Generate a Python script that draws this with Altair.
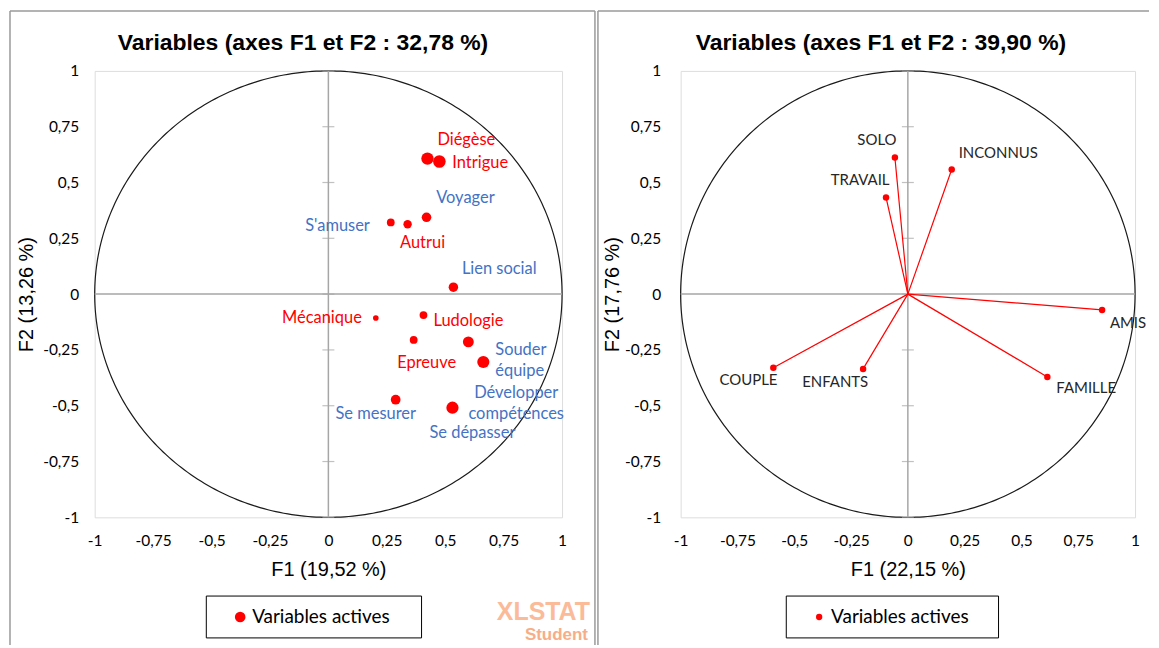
import altair as alt
import numpy as np
import pandas as pd

# ------------------------------------------------------------------ data
TICKS = [-1, -0.75, -0.5, -0.25, 0, 0.25, 0.5, 0.75, 1]

# left chart
noms_g = ["Diégèse", "Intrigue", "Voyager", "S'amuser", "Autrui", "Lien social",
          "Mécanique", "Ludologie", "Epreuve", "Souder\néquipe",
          "Développer\ncompétences", "Se mesurer", "Se dépasser"]
f1_g = [0.424, 0.475, 0.420, 0.267, 0.339, 0.535, 0.203, 0.407, 0.365, 0.599, 0.663, 0.288, 0.531]
f2_g = [0.607, 0.594, 0.344, 0.321, 0.313, 0.031, -0.107, -0.094, -0.205, -0.214, -0.304, -0.473, -0.509]
qual_g = [0.55, 0.58, 0.30, 0.17, 0.21, 0.29, 0.05, 0.17, 0.17, 0.41, 0.53, 0.31, 0.54]
groupe_g = ["Jeu", "Jeu", "Motivation", "Motivation", "Jeu", "Motivation", "Jeu", "Jeu",
            "Jeu", "Motivation", "Motivation", "Motivation", "Motivation"]

# right chart
noms_d = ["SOLO", "TRAVAIL", "INCONNUS", "AMIS", "FAMILLE", "COUPLE", "ENFANTS"]
f1_d = [-0.057, -0.096, 0.193, 0.855, 0.614, -0.592, -0.197]
f2_d = [0.612, 0.433, 0.558, -0.071, -0.371, -0.330, -0.335]

titres = ["Variables (axes F1 et F2 : 32,78 %)", "Variables (axes F1 et F2 : 39,90 %)"]
axes_x = ["F1 (19,52 %)", "F1 (22,15 %)"]
axes_y = ["F2 (13,26 %)", "F2 (17,76 %)"]
legende = "Variables actives"

# ------------------------------------------------------------------ styles
FONT_T = "Liberation Sans"
FONT_C = "Lato"
H = 448
W_G, W_D = 469, 456
RED = "#FF0000"
BLUE = "#4472C4"

# label placement (pixel offsets from the point), not data
LBL_G = [(39, -19, "center"), (13, 1, "left"), (39, -19, "center"), (-21, 4, "right"),
         (15, 19, "center"), (46, -18, "center"), (-14, 0, "right"), (10, 6, "left"),
         (13, 23, "center"), (27, 8, "left"), (33, 31, "center"), (-20, 14, "center"),
         (20, 25, "center")]
LBL_D = [(-18, -18, "center"), (-26, -18, "center"), (7, -17, "left"), (26, 13, "center"),
         (39, 11, "center"), (-25, 12, "center"), (-28, 13, "center")]

df_g = pd.DataFrame({"i": range(len(noms_g)), "nom": noms_g, "x": f1_g, "y": f2_g,
                     "qual": qual_g, "groupe": groupe_g})
df_d = pd.DataFrame({"i": range(len(noms_d)), "nom": noms_d, "x": f1_d, "y": f2_d})
df_ticks = pd.DataFrame({"y": TICKS})
t = np.linspace(0, 2 * np.pi, 361)
df_circ = pd.DataFrame({"t": t, "x": np.cos(t), "y": np.sin(t)})
one = pd.DataFrame({"a": [0]})

LABEL_EXPR = "replace(toString(datum.value), '.', ',')"


def encs(W, xt, yt, ypad):
    sc = alt.Scale(domain=[-1, 1], nice=False, zero=False)
    ax_x = alt.Axis(values=TICKS, labelExpr=LABEL_EXPR, grid=False, ticks=False, domain=False,
                    labelFont=FONT_C, labelFontSize=15.5, labelColor="#000", labelPadding=16,
                    labelFlush=False, labelOverlap=False,
                    title=xt, titleFont=FONT_T, titleFontSize=20, titleFontWeight="normal",
                    titleColor="#000", titleX=W / 2, titleY=52, titleBaseline="middle")
    ax_y = alt.Axis(values=TICKS, labelExpr=LABEL_EXPR, grid=False, ticks=False, domain=False,
                    labelFont=FONT_C, labelFontSize=15.5, labelColor="#000", labelPadding=ypad,
                    labelFlush=False, labelOverlap=False,
                    title=yt, titleFont=FONT_T, titleFontSize=20, titleFontWeight="normal",
                    titleColor="#000", titleX=-68, titleY=H / 2, titleAngle=270,
                    titleBaseline="middle")
    X = alt.X("x:Q", scale=sc, axis=ax_x)
    Y = alt.Y("y:Q", scale=sc, axis=ax_y)
    return X, Y


def frame_layers(X, Y, title, tx):
    circ = alt.Chart(df_circ).mark_line(color="#1a1a1a", strokeWidth=1.2).encode(
        x=X, y=Y, order="t:Q")
    vline = alt.Chart(one).mark_rule(color="#A6A6A6", strokeWidth=1.5).encode(
        x=alt.datum(0, type="quantitative"), y=alt.datum(-1, type="quantitative"),
        y2=alt.datum(1))
    hline = alt.Chart(one).mark_rule(color="#A6A6A6", strokeWidth=1.5).encode(
        y=alt.datum(0, type="quantitative"), x=alt.datum(-1, type="quantitative"),
        x2=alt.datum(1))
    ticks = alt.Chart(df_ticks).mark_tick(color="#A6A6A6", orient="horizontal", size=12,
                                          thickness=1.2).encode(
        x=alt.datum(0, type="quantitative"), y=Y)
    ttl = alt.Chart(one).mark_text(font=FONT_T, fontSize=23, fontWeight="bold", color="#000",
                                   align="center", baseline="middle").encode(
        x=alt.value(tx), y=alt.value(-28), text=alt.value(title))
    return [circ, vline, hline, ticks, ttl]


def legend_layers(x0, x1, dot_x, dot_size):
    box = alt.Chart(one).mark_rect(fillOpacity=0, stroke="#000", strokeWidth=1).encode(
        x=alt.value(x0), x2=alt.value(x1), y=alt.value(527), y2=alt.value(569))
    dot = alt.Chart(one).mark_point(filled=True, shape="circle", color=RED, size=dot_size,
                                    opacity=1).encode(x=alt.value(dot_x), y=alt.value(548))
    txt = alt.Chart(one).mark_text(font=FONT_C, fontSize=19, color="#000", align="left",
                                   baseline="middle").encode(
        x=alt.value(dot_x + 12), y=alt.value(548), text=alt.value(legende))
    return [box, dot, txt]


def vrule(x, y0, y1, color="#9A9A9A", w=1.5):
    return alt.Chart(one).mark_rule(color=color, strokeWidth=w).encode(
        x=alt.value(x), y=alt.value(y0), y2=alt.value(y1))


def hrule(y, x0, x1, color="#9A9A9A", w=1.5):
    return alt.Chart(one).mark_rule(color=color, strokeWidth=w).encode(
        y=alt.value(y), x=alt.value(x0), x2=alt.value(x1))


# ------------------------------------------------------------------ left panel
Xg, Yg = encs(W_G, axes_x[0], axes_y[0], 16)
col_g = alt.Color("groupe:N", scale=alt.Scale(domain=["Jeu", "Motivation"], range=[RED, BLUE]),
                  legend=None)
pts_g = alt.Chart(df_g).mark_point(filled=True, shape="circle", color=RED, opacity=1).encode(
    x=Xg, y=Yg,
    size=alt.Size("qual:Q", scale=alt.Scale(domain=[0, 0.6], range=[20, 165]), legend=None))
lab_g = []
for i, (dx, dy, al) in enumerate(LBL_G):
    lab_g.append(alt.Chart(df_g).transform_filter(alt.datum.i == i).mark_text(
        dx=dx, dy=dy, align=al, baseline="middle", font=FONT_C, fontSize=16.5,
        lineBreak="\n", lineHeight=21).encode(x=Xg, y=Yg, text="nom:N", color=col_g))

wm1 = alt.Chart(one).mark_text(font=FONT_T, fontSize=25, fontWeight="bold", color="#FBBA98",
                               align="right", baseline="middle").encode(
    x=alt.value(497), y=alt.value(543), text=alt.value("XLSTAT"))
wm2 = alt.Chart(one).mark_text(font=FONT_T, fontSize=17, fontWeight="bold", color="#F7AE86",
                               align="right", baseline="middle").encode(
    x=alt.value(495), y=alt.value(566), text=alt.value("Student"))

left = alt.layer(
    *frame_layers(Xg, Yg, titres[0], 209),
    pts_g, *lab_g,
    *legend_layers(112, 328, 146, 113),
    wm1, wm2,
    vrule(-85, -60, 576), vrule(502, -60, 576), hrule(-60, -85, 502),
).properties(width=W_G, height=H)

# ------------------------------------------------------------------ right panel
Xd, Yd = encs(W_D, axes_x[1], axes_y[1], 20)
vec_d = alt.Chart(df_d).mark_rule(color=RED, strokeWidth=1.2).encode(
    x=Xd, y=Yd, x2=alt.datum(0), y2=alt.datum(0))
pts_d = alt.Chart(df_d).mark_point(filled=True, shape="circle", color=RED, size=42,
                                   opacity=1).encode(x=Xd, y=Yd)
lab_d = []
for i, (dx, dy, al) in enumerate(LBL_D):
    lab_d.append(alt.Chart(df_d).transform_filter(alt.datum.i == i).mark_text(
        dx=dx, dy=dy, align=al, baseline="middle", font=FONT_C, fontSize=15,
        color="#262626").encode(x=Xd, y=Yd, text="nom:N"))

right = alt.layer(
    *frame_layers(Xd, Yd, titres[1], 201),
    vec_d, pts_d, *lab_d,
    *legend_layers(106, 319, 139, 40),
    vrule(-83, -60, 576), hrule(-60, -83, 470),
).properties(width=W_D, height=H)

chart = alt.hconcat(left, right, spacing=119, bounds="flush").properties(
    padding={"left": 0, "top": 0, "right": 0, "bottom": 0}
).configure_view(stroke="#BFBFBF", strokeWidth=1.5).configure(background="white")

chart.save("out.html", embed_options={"renderer": "svg", "actions": False})
